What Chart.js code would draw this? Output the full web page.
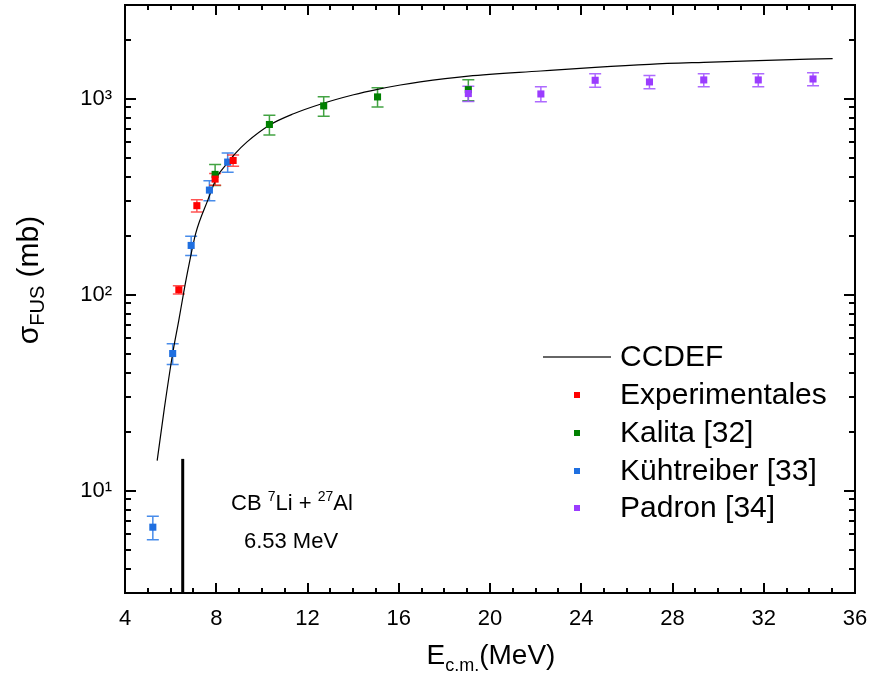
<!DOCTYPE html>
<html><head><meta charset="utf-8">
<script src="https://cdn.jsdelivr.net/npm/chart.js@4.4.1/dist/chart.umd.min.js"></script>
<style>html,body{margin:0;padding:0;background:#fff;}#wrap{width:870px;height:684px;}</style>
</head><body><div id="wrap"><canvas id="c" width="870" height="684"></canvas></div>
<script>
// ---- data ----
const ccdefE     = [5.41, 5.72, 6.09, 6.36, 6.57, 6.79, 7.10, 7.63, 8.04, 8.48, 8.84, 9.35, 10.33, 11.39, 12.56, 14.02, 15.07, 16.07, 16.94, 19.05, 22.23, 24.61, 26.99, 29.37, 31.76, 35.02];
const ccdefSigma = [14.2, 26, 50, 74, 102, 139, 205, 303, 399, 467, 525, 601, 731, 836, 935, 1045, 1114, 1172, 1216, 1300, 1382, 1443, 1495, 1530, 1561, 1599];

const expE     = [6.36, 7.15, 7.95, 8.74];
const expSigma = [105.7, 284, 388, 483];
const expErr   = [5, 20, 27, 32];

const kalitaE     = [7.95, 10.33, 12.71, 15.07, 19.05];
const kalitaSigma = [410, 737, 917, 1019, 1110];
const kalitaErr   = [50, 85, 105, 115, 135];

const kuhE     = [5.22, 6.09, 6.90, 7.70, 8.50];
const kuhSigma = [6.5, 50, 178, 341, 474];
const kuhErr   = [0.9, 6, 20, 40, 53];

const padronE     = [19.05, 22.23, 24.61, 26.99, 29.37, 31.76, 34.16];
const padronSigma = [1060, 1055, 1239, 1215, 1244, 1244, 1258];
const padronErr   = [95, 92, 97, 95, 95, 95, 95];

const cbE     = [6.53, 6.53];
const cbSigma = [3, 14.5];

const seriesNames = ['CCDEF', 'Experimentales', 'Kalita [32]', 'Kühtreiber [33]', 'Padron [34]'];
const xTickStep = 4;
const yTickExponents = [1, 2, 3];
const cbLabelLines = ['CB ', '7', 'Li + ', '27', 'Al', '6.53 MeV'];

// ---- styling ----
const FONT = "'Liberation Sans', Arial, sans-serif";
const C_RED = '#ff0000', C_GREEN = '#008000', C_BLUE = '#1f6fe0', C_PURPLE = '#9b3cff';
const E_RED = 'rgba(255,40,40,0.8)', E_GREEN = 'rgba(20,140,20,0.8)', E_BLUE = 'rgba(40,120,230,0.85)', E_PURPLE = 'rgba(160,80,255,0.85)';
const SUP = {1: '\u00B9', 2: '\u00B2', 3: '\u00B3'};

const pts = (xs, ys) => xs.map((x, i) => ({x: x, y: ys[i]}));
const markerDs = (label, xs, ys, err, color, ecolor, order) => ({
  label, data: pts(xs, ys), err, ecolor, legendColor: color,
  backgroundColor: color, borderWidth: 0, pointStyle: 'rect', pointRadius: 5, pointHoverRadius: 5, order
});

const framePlugin = {
  id: 'frameTicks',
  beforeDatasetsDraw(chart) {
    const ctx = chart.ctx, xs = chart.scales.x, ys = chart.scales.y;
    ctx.save();
    chart.data.datasets.forEach(ds => {
      if (!ds.err) return;
      ctx.strokeStyle = ds.ecolor; ctx.lineWidth = 1.5;
      ds.data.forEach((p, i) => {
        const px = xs.getPixelForValue(p.x);
        const yt = ys.getPixelForValue(p.y + ds.err[i]);
        const yb = ys.getPixelForValue(p.y - ds.err[i]);
        ctx.beginPath();
        ctx.moveTo(px, yt); ctx.lineTo(px, yb);
        ctx.moveTo(px - 6, yt); ctx.lineTo(px + 6, yt);
        ctx.moveTo(px - 6, yb); ctx.lineTo(px + 6, yb);
        ctx.stroke();
      });
    });
    ctx.restore();
  },
  afterDraw(chart) {
    const ctx = chart.ctx, a = chart.chartArea, xs = chart.scales.x, ys = chart.scales.y;
    ctx.save();
    ctx.strokeStyle = '#000'; ctx.lineWidth = 2;
    ctx.strokeRect(a.left, a.top, a.right - a.left, a.bottom - a.top);
    ctx.beginPath();
    for (let v = xs.min; v <= xs.max + 1e-9; v += 1) {
      const px = Math.round(xs.getPixelForValue(v));
      const len = (Math.round(v - xs.min) % xTickStep === 0) ? 10 : 5;
      ctx.moveTo(px, a.bottom); ctx.lineTo(px, a.bottom - len);
      ctx.moveTo(px, a.top); ctx.lineTo(px, a.top + len);
    }
    for (let k = 0; k <= 3; k++) {
      for (let d = 1; d <= 9; d++) {
        const v = d * Math.pow(10, k);
        if (v < ys.min - 1e-9 || v > ys.max + 1e-9) continue;
        const py = Math.round(ys.getPixelForValue(v));
        const len = d === 1 ? 11 : 6;
        ctx.moveTo(a.left, py); ctx.lineTo(a.left + len, py);
        ctx.moveTo(a.right, py); ctx.lineTo(a.right - len, py);
      }
    }
    ctx.stroke();

    ctx.fillStyle = '#000';
    ctx.textBaseline = 'alphabetic';
    // x title
    const xb = '28px ' + FONT, xsF = '18px ' + FONT;
    ctx.font = xb;
    const t1 = 'E', t3 = '(MeV)';
    const w1 = ctx.measureText(t1).width, w3 = ctx.measureText(t3).width;
    ctx.font = xsF;
    const t2 = 'c.m.', w2 = ctx.measureText(t2).width;
    let x0 = 491 - (w1 + w2 + w3) / 2;
    ctx.textAlign = 'left';
    ctx.font = xb; ctx.fillText(t1, x0, 664);
    ctx.font = xsF; ctx.fillText(t2, x0 + w1, 671);
    ctx.font = xb; ctx.fillText(t3, x0 + w1 + w2, 664);

    // y title
    ctx.save();
    ctx.translate(38, 280);
    ctx.rotate(-Math.PI / 2);
    const yb = '30px ' + FONT, ysF = '20px ' + FONT;
    ctx.font = yb;
    const s1 = '\u03C3', s3 = ' (mb)';
    const v1 = ctx.measureText(s1).width, v3 = ctx.measureText(s3).width;
    ctx.font = ysF;
    const s2 = 'FUS', v2 = ctx.measureText(s2).width;
    let u0 = -(v1 + v2 + v3) / 2;
    ctx.font = yb; ctx.fillText(s1, u0, 0);
    ctx.font = ysF; ctx.fillText(s2, u0 + v1, 6);
    ctx.font = yb; ctx.fillText(s3, u0 + v1 + v2, 0);
    ctx.restore();

    // annotation
    const big = '22px ' + FONT, small = '14px ' + FONT;
    const parts = [[cbLabelLines[0], big, 0], [cbLabelLines[1], small, -9], [cbLabelLines[2], big, 0], [cbLabelLines[3], small, -9], [cbLabelLines[4], big, 0]];
    let tw = 0;
    parts.forEach(p => { ctx.font = p[1]; tw += ctx.measureText(p[0]).width; });
    let ax = 292 - tw / 2;
    parts.forEach(p => { ctx.font = p[1]; ctx.fillText(p[0], ax, 510 + p[2]); ax += ctx.measureText(p[0]).width; });
    ctx.font = big; ctx.textAlign = 'center';
    ctx.fillText(cbLabelLines[5], 291, 548);

    // legend
    ctx.textAlign = 'left'; ctx.textBaseline = 'middle';
    ctx.font = '30px ' + FONT;
    const rows = [357, 395, 433, 471, 508];
    ctx.strokeStyle = '#333'; ctx.lineWidth = 1.5;
    ctx.beginPath(); ctx.moveTo(543, rows[0]); ctx.lineTo(611, rows[0]); ctx.stroke();
    ctx.fillText(seriesNames[0], 620, rows[0] + 1);
    const legendColors = [null, C_RED, C_GREEN, C_BLUE, C_PURPLE];
    for (let i = 1; i < 5; i++) {
      ctx.fillStyle = legendColors[i];
      ctx.fillRect(574, rows[i] - 3, 6, 6);
      ctx.fillStyle = '#000';
      ctx.fillText(seriesNames[i], 620, rows[i] + 1);
    }
    ctx.restore();
  }
};

new Chart(document.getElementById('c').getContext('2d'), {
  type: 'scatter',
  data: {
    datasets: [
      {label: seriesNames[0], data: pts(ccdefE, ccdefSigma), showLine: true, borderColor: '#000', borderWidth: 1.2,
       pointRadius: 0, pointHoverRadius: 0, cubicInterpolationMode: 'monotone', order: 6},
      {label: 'CB', data: pts(cbE, cbSigma), showLine: true, borderColor: '#000', borderWidth: 3, pointRadius: 0, pointHoverRadius: 0, order: 7},
      markerDs(seriesNames[2], kalitaE, kalitaSigma, kalitaErr, C_GREEN, E_GREEN, 4),
      markerDs(seriesNames[3], kuhE, kuhSigma, kuhErr, C_BLUE, E_BLUE, 3),
      markerDs(seriesNames[1], expE, expSigma, expErr, C_RED, E_RED, 2),
      markerDs(seriesNames[4], padronE, padronSigma, padronErr, C_PURPLE, E_PURPLE, 1)
    ]
  },
  options: {
    responsive: false, animation: false, devicePixelRatio: 1,
    layout: {padding: {left: 0, right: 15, top: 5, bottom: 0}},
    plugins: {legend: {display: false}, tooltip: {enabled: false}},
    scales: {
      x: {
        type: 'linear', min: 4, max: 36,
        afterFit(s) { s.height = 91; s.paddingLeft = 0; s.paddingRight = 0; },
        grid: {display: false, drawTicks: false}, border: {display: false},
        ticks: {stepSize: xTickStep, autoSkip: false, maxRotation: 0, color: '#000', padding: 13,
                font: {family: FONT, size: 22}}
      },
      y: {
        type: 'logarithmic', min: 3, max: 3000,
        afterFit(s) { s.width = 125; s.paddingTop = 0; s.paddingBottom = 0; },
        grid: {display: false, drawTicks: false}, border: {display: false},
        ticks: {autoSkip: false, color: '#000', padding: 13, font: {family: FONT, size: 22},
          callback(v) {
            const l = Math.log10(v), r = Math.round(l);
            if (Math.abs(l - r) < 1e-9 && yTickExponents.includes(r)) return '10' + SUP[r];
            return '';
          }}
      }
    }
  },
  plugins: [framePlugin]
});
</script>
</body></html>
